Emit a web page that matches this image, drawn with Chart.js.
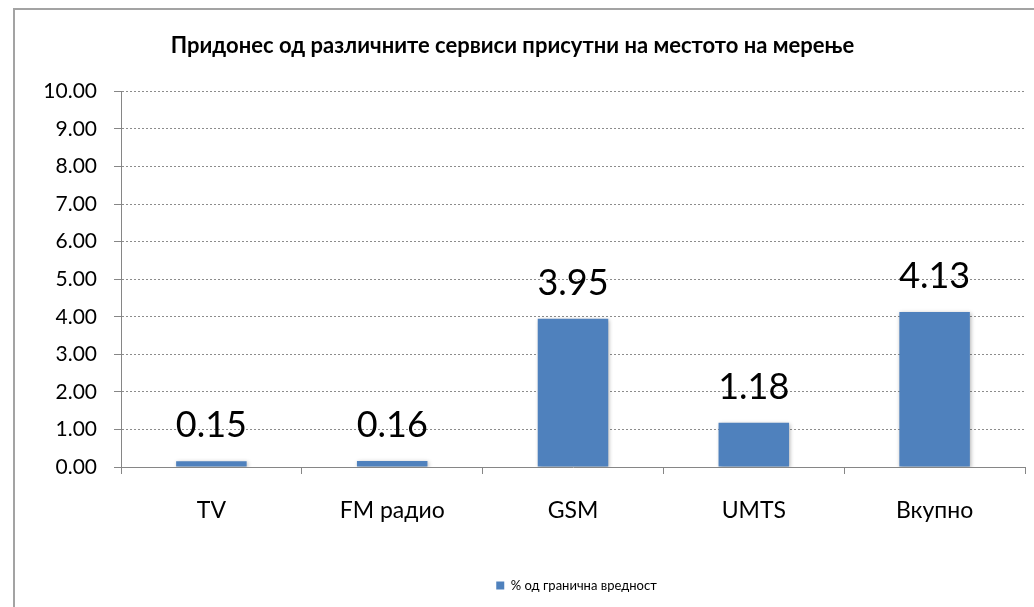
<!DOCTYPE html>
<html>
<head>
<meta charset="utf-8">
<script src="https://cdn.jsdelivr.net/npm/chart.js@4"></script>
<style>
  html, body { margin: 0; padding: 0; background: #fff; overflow: hidden; }
  #chart { display: block; }
</style>
</head>
<body>
<canvas id="chart" width="1034" height="607"></canvas>
<script>
// data
const categories = ["TV", "FM радио", "GSM", "UMTS", "Вкупно"];
const values = [0.15, 0.16, 3.95, 1.18, 4.13];
const seriesName = "% од гранична вредност";
const chartTitle = "Придонес од различните сервиси присутни на местото на мерење";

const FONT = "Lato, 'Open Sans', sans-serif";
Chart.defaults.font.family = FONT;
Chart.defaults.color = "#000";

// outer chart frame (runs off the right/bottom edge like the source)
const frame = {
  id: "frame",
  beforeDraw(chart) {
    const ctx = chart.ctx;
    ctx.save();
    ctx.strokeStyle = "#a3a3a3";
    ctx.lineWidth = 2;
    ctx.beginPath();
    ctx.moveTo(14, chart.height + 5);
    ctx.lineTo(14, 9);
    ctx.lineTo(chart.width + 5, 9);
    ctx.stroke();
    ctx.restore();
  }
};

// value labels above bars
const valueLabels = {
  id: "valueLabels",
  afterDatasetsDraw(chart) {
    const { ctx } = chart;
    const meta = chart.getDatasetMeta(0);
    ctx.save();
    ctx.font = "36px " + FONT;
    ctx.fillStyle = "#000";
    ctx.textAlign = "center";
    ctx.textBaseline = "alphabetic";
    meta.data.forEach((bar, i) => {
      ctx.fillText(values[i].toFixed(2), bar.x, bar.y - 24);
    });
    ctx.restore();
  }
};

// soft shadow under bars
const barShadow = {
  id: "barShadow",
  beforeDatasetDraw(chart) {
    const ctx = chart.ctx;
    ctx.save();
    ctx.shadowColor = "rgba(0,0,0,0.3)";
    ctx.shadowBlur = 4;
    ctx.shadowOffsetX = 1;
    ctx.shadowOffsetY = 1;
  },
  afterDatasetDraw(chart) {
    chart.ctx.restore();
  }
};

// legend sits right of centre in the original
const legendShift = {
  id: "legendShift",
  afterLayout(chart) {
    if (!chart.legend) return;
    chart.legend.left += 64;
    chart.legend.right += 64;
  }
};

new Chart(document.getElementById("chart"), {
  type: "bar",
  data: {
    labels: categories,
    datasets: [{
      label: seriesName,
      data: values,
      backgroundColor: "#4F81BD",
      borderWidth: 0,
      categoryPercentage: 1,
      barPercentage: 0.39
    }]
  },
  options: {
    responsive: false,
    animation: false,
    layout: { padding: { left: 0, right: 9, top: 0, bottom: 5 } },
    plugins: {
      title: {
        display: true,
        text: chartTitle,
        font: { size: 22, weight: "bold" },
        color: "#000",
        padding: { top: 33, bottom: 32 }
      },
      legend: {
        position: "bottom",
        labels: {
          boxWidth: 8,
          boxHeight: 8,
          padding: 10,
          font: { size: 13 },
          color: "#000"
        }
      },
      tooltip: { enabled: false }
    },
    scales: {
      x: {
        afterFit: scale => { scale.height = 102; },
        grid: {
          offset: true,
          drawOnChartArea: false,
          drawTicks: true,
          tickLength: 7,
          color: "#868686"
        },
        border: { color: "#868686", width: 1 },
        ticks: { padding: 23, font: { size: 23 }, color: "#000" }
      },
      y: {
        min: 0,
        max: 10,
        afterFit: scale => { scale.width = 121; },
        grid: {
          color: "#8c8c8c",
          tickColor: "#868686",
          tickLength: 7,
          tickBorderDash: []
        },
        border: { color: "#868686", width: 1, dash: [2, 2] },
        ticks: {
          stepSize: 1,
          padding: 17,
          font: { size: 21 },
          color: "#000",
          callback: v => Number(v).toFixed(2)
        }
      }
    }
  },
  plugins: [frame, barShadow, valueLabels, legendShift]
});
</script>
</body>
</html>
